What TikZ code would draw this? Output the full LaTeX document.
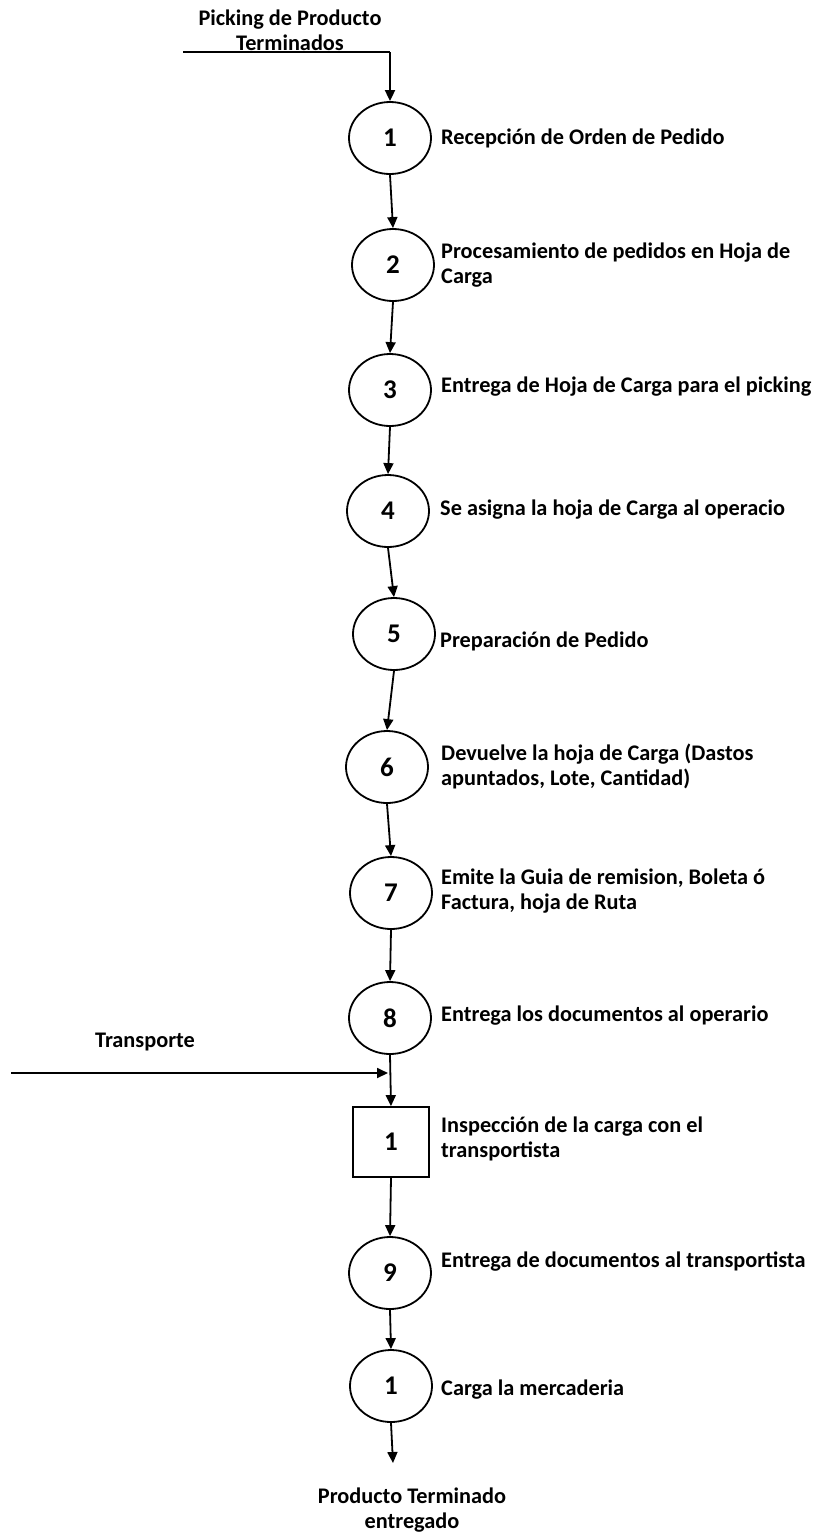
\documentclass[tikz,border=0pt]{standalone}
\usepackage{fontspec}
\setmainfont{Carlito}
\usetikzlibrary{shapes.geometric,arrows.meta}
\begin{document}
\begin{tikzpicture}[x=1pt,y=-1pt,
  proc/.style={ellipse,draw,line width=1.8pt,minimum width=82pt,minimum height=72pt,inner sep=0pt,font=\fontsize{27}{30}\selectfont\bfseries},
  insp/.style={rectangle,draw,line width=1.8pt,minimum width=76pt,minimum height=70pt,inner sep=0pt,font=\fontsize{27}{30}\selectfont\bfseries},
  lbl/.style={anchor=west,align=left,inner sep=0pt,font=\fontsize{22.3}{25}\selectfont\bfseries},
  ttl/.style={align=center,inner sep=0pt,font=\fontsize{22.3}{25}\selectfont\bfseries},
  flow/.style={line width=1.8pt,-{Triangle[length=11pt,width=10pt]}},
  plain/.style={line width=1.8pt}
  ]
\useasboundingbox (0,0) rectangle (815,1532);

% titles
\node[ttl] (tin) at (290,30) {Picking de Producto\\Terminados};
\node[ttl] (tout) at (412,1510) {Producto Terminado\\entregado};
\node[ttl] (ttr) at (145,1042) {Transporte};

% process nodes
\node[proc] (c1) at (390,138) {1};
\node[proc] (c2) at (393,265) {2};
\node[proc] (c3) at (390,390) {3};
\node[proc] (c4) at (388,511) {4};
\node[proc] (c5) at (394,634) {5};
\node[proc] (c6) at (387,767) {6};
\node[proc] (c7) at (391,893) {7};
\node[proc] (c8) at (390,1018) {8};
\node[insp] (sq) at (391,1142) {1};
\node[proc] (c9) at (390,1273) {9};
\node[proc] (c10) at (391,1386) {1};

% labels
\node[lbl] (l1) at (441,138) {Recepción de Orden de Pedido};
\node[lbl] (l2) at (441,265) {Procesamiento de pedidos en Hoja de\\Carga};
\node[lbl] (l3) at (441,387) {Entrega de Hoja de Carga para el picking};
\node[lbl] (l4) at (440,510) {Se asigna la hoja de Carga al operacio};
\node[lbl] (l5) at (440,641) {Preparación de Pedido};
\node[lbl] (l6) at (441,766) {Devuelve la hoja de Carga (Dastos\\apuntados, Lote, Cantidad)};
\node[lbl] (l7) at (441,891) {Emite la Guia de remision, Boleta ó\\Factura, hoja de Ruta};
\node[lbl] (l8) at (441,1016) {Entrega los documentos al operario};
\node[lbl] (lsq) at (441,1139) {Inspección de la carga con el\\transportista};
\node[lbl] (l9) at (441,1262) {Entrega de documentos al transportista};
\node[lbl] (l10) at (441,1390) {Carga la mercaderia};

% connector coordinates
\coordinate (inStart) at (183,52);
\coordinate (inCorner) at (390,52);
\coordinate (trStart) at (11,1073);
\coordinate (trEnd) at (388,1073);
\coordinate (outEnd) at (393,1463);

% connectors
\draw[plain] (inStart) -- (inCorner);
\draw[flow] (inCorner) -- (c1.north);
\draw[flow] (c1.south) -- (c2.north);
\draw[flow] (c2.south) -- (c3.north);
\draw[flow] (c3.south) -- (c4.north);
\draw[flow] (c4.south) -- (c5.north);
\draw[flow] (c5.south) -- (c6.north);
\draw[flow] (c6.south) -- (c7.north);
\draw[flow] (c7.south) -- (c8.north);
\draw[flow] (c8.south) -- (sq.north);
\draw[flow] (trStart) -- (trEnd);
\draw[flow] (sq.south) -- (c9.north);
\draw[flow] (c9.south) -- (c10.north);
\draw[flow] (c10.south) -- (outEnd);
\end{tikzpicture}
\end{document}
